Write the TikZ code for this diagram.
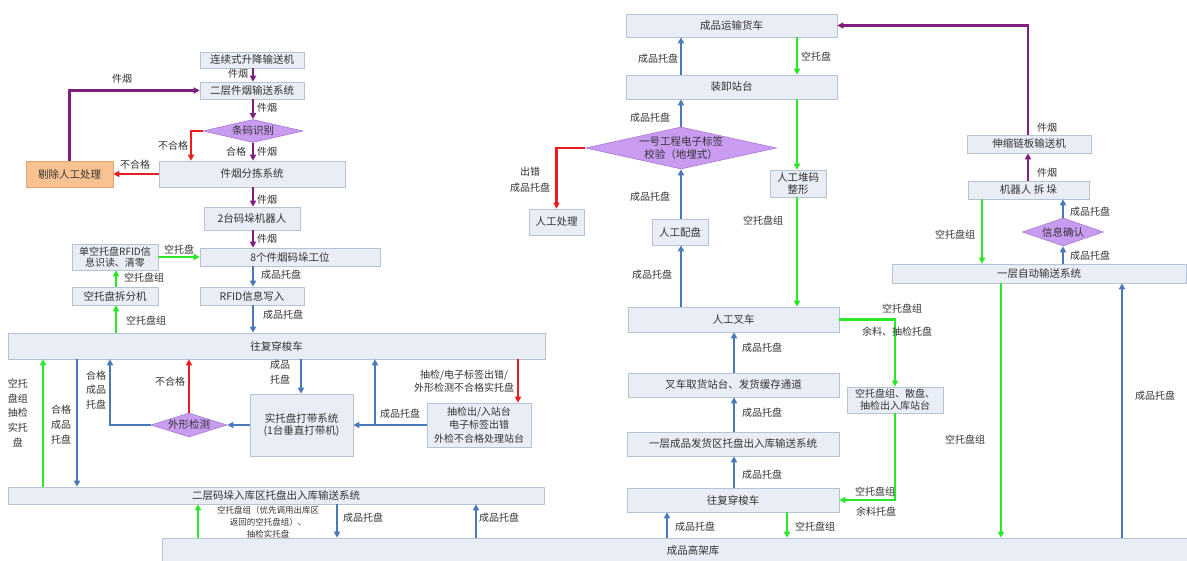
\documentclass[tikz,border=0pt]{standalone}
\usepackage{fontspec}
\setmainfont{Noto Sans CJK SC}
\usetikzlibrary{arrows.meta,shapes.geometric}
\definecolor{boxfill}{HTML}{E9EDF5}
\definecolor{boxdraw}{HTML}{B7C2D2}
\definecolor{txt}{HTML}{333333}
\definecolor{purp}{RGB}{128,30,128}
\definecolor{redc}{RGB}{232,30,30}
\definecolor{greenc}{RGB}{40,232,40}
\definecolor{bluec}{RGB}{74,120,184}
\definecolor{diafill}{HTML}{C99CF2}
\definecolor{diadraw}{HTML}{A77AD6}
\definecolor{orfill}{HTML}{F9C391}
\definecolor{ordraw}{HTML}{E2A672}
\begin{document}
\begin{tikzpicture}[x=1pt,y=-1pt,
  box/.style={draw=boxdraw, fill=boxfill, line width=0.6pt, inner sep=1pt,
    font=\fontsize{10.5}{12.5}\selectfont, text=txt, align=center},
  wh/.style 2 args={minimum width=#1pt, minimum height=#2pt},
  dia/.style={diamond, draw=diadraw, fill=diafill, line width=0.6pt, inner sep=0pt},
  lbl/.style={font=\fontsize{10}{12}\selectfont, text=txt, inner sep=0pt, align=center},
  arr/.style={line width=2.2pt, -{Triangle[length=6pt,width=6pt]}},
  parr/.style={arr, draw=purp, color=purp},
  rarr/.style={arr, draw=redc, color=redc},
  garr/.style={arr, draw=greenc, color=greenc},
  barr/.style={arr, draw=bluec, color=bluec}]
\useasboundingbox (0,0) rectangle (1187,561);
\fill[white] (0,0) rectangle (1187,561);

% column coordinates
\coordinate (cA) at (253,0);
\coordinate (cB) at (116,0);
\coordinate (cC) at (43,0);
\coordinate (cD) at (77,0);
\coordinate (cE) at (110,0);
\coordinate (cG) at (301,0);
\coordinate (cH) at (375,0);
\coordinate (cI) at (518,0);
\coordinate (cJ) at (198,0);
\coordinate (cK) at (337,0);
\coordinate (cL) at (476,0);
\coordinate (cN) at (191,0);
\coordinate (cP) at (681,0);
\coordinate (cQ) at (797,0);
\coordinate (cS) at (734,0);
\coordinate (cT) at (667,0);
\coordinate (cU) at (787,0);
\coordinate (cW) at (1001,0);
\coordinate (cX) at (1122,0);
\coordinate (cY) at (982,0);
\coordinate (c1) at (1028,0);

% ---------- left part boxes ----------
\node[box, wh={104}{16}] (n1) at (252,60) {连续式升降输送机};
\node[box, wh={104}{17}] (n2) at (252,90.5) {二层件烟输送系统};
\node[dia, minimum width=100pt, minimum height=23pt] (d1) at (253,131) {};
\node[lbl, font=\fontsize{10.5}{12}\selectfont] (d1t) at (d1) {条码识别};
\node[box, wh={186}{26}] (n3) at (252,174) {件烟分拣系统};
\node[box, wh={87}{26}, fill=orfill, draw=ordraw] (n4) at (69.5,174) {剔除人工处理};
\node[box, wh={96}{23}] (n5) at (252,218.5) {2台码垛机器人};
\node[box, wh={180}{18}] (n6) at (290,257) {8个件烟码垛工位};
\node[box, wh={104}{18}] (n7) at (252,296) {RFID信息写入};
\node[box, wh={86}{26}, font=\fontsize{10}{11.5}\selectfont] (n8) at (115,257) {单空托盘RFID信\\息识读、清零};
\node[box, wh={86}{18}] (n9) at (115,296) {空托盘拆分机};
\node[box, wh={537}{26}] (n10) at (276.5,346) {往复穿梭车};
\node[box, wh={103}{62}] (n11) at (301.5,425) {实托盘打带系统\\(1台垂直打带机)};
\node[box, wh={104}{44}, font=\fontsize{10}{13.5}\selectfont] (n12) at (479,425) {抽检出/入站台\\电子标签出错\\外检不合格处理站台};
\node[dia, minimum width=76pt, minimum height=24pt] (d2) at (189,425) {};
\node[lbl, font=\fontsize{10.5}{12}\selectfont] (d2t) at (d2) {外形检测};
\node[box, wh={536}{17}] (n13) at (276,495.5) {二层码垛入库区托盘出入库输送系统};
\node[box, wh={1025}{23}] (hw) at (674.5,549.5) {};
\node[lbl, font=\fontsize{10.5}{12}\selectfont] (hwt) at (693,551) {成品高架库};

% ---------- right part boxes ----------
\node[box, wh={211}{23}] (r1) at (731.5,25.5) {成品运输货车};
\node[box, wh={211}{24}] (r2) at (731.5,87) {装卸站台};
\node[dia, minimum width=191pt, minimum height=42pt] (d3) at (681,148) {};
\node[lbl, font=\fontsize{10.5}{13}\selectfont] (d3t) at (681,148) {一号工程电子标签\\校验（地埋式）};
\node[box, wh={55}{26}] (r3) at (556.5,222) {人工处理};
\node[box, wh={56}{26}] (r4) at (680,232) {人工配盘};
\node[box, wh={56}{27}, font=\fontsize{10.5}{12}\selectfont] (r5) at (798,183.5) {人工堆码\\整形};
\node[box, wh={211}{25}] (r6) at (733.5,319.5) {人工叉车};
\node[box, wh={211}{24}] (r7) at (733.5,385) {叉车取货站台、发货缓存通道};
\node[box, wh={212}{24}] (r8) at (733,444) {一层成品发货区托盘出入库输送系统};
\node[box, wh={212}{24}] (r9) at (733,500) {往复穿梭车};
\node[box, wh={96}{26}, font=\fontsize{10}{12}\selectfont] (r10) at (895,400) {空托盘组、散盘、\\抽检出入库站台};
\node[box, wh={124}{18}] (r11) at (1029,144) {伸缩链板输送机};
\node[box, wh={121}{18}] (r12) at (1028.5,190) {机器人 拆 垛};
\node[dia, minimum width=81pt, minimum height=28pt] (d4) at (1063,232) {};
\node[lbl, font=\fontsize{10.5}{12}\selectfont] (d4t) at (d4) {信息确认};
\node[box, wh={294}{19}] (r13) at (1039,273.5) {一层自动输送系统};

% ---------- left connectors ----------
\draw[parr] (n1.south -| cA) -- (n2.north -| cA);
\draw[parr] (n4.north) -- (n4.north |- n2.west) -- (n2.west);
\draw[parr] (n2.south -| d1) -- (d1.north);
\draw[parr] (d1.south) -- (n3.north -| d1);
\draw[rarr] (d1.west) -| (cN |- n3.north);
\draw[rarr] (n3.west) -- (n4.east);
\draw[parr] (n3.south -| cA) -- (n5.north -| cA);
\draw[parr] (n5.south -| cA) -- (n6.north -| cA);
\draw[barr] (n6.south -| cA) -- (n7.north -| cA);
\draw[barr] (n7.south -| cA) -- (n10.north -| cA);
\draw[garr] (n8.east) -- (n6.west);
\draw[garr] (n9.north -| cB) -- (n8.south -| cB);
\draw[garr] (n10.north -| cB) -- (n9.south -| cB);
\draw[garr] (n13.north -| cC) -- (n10.south -| cC);
\draw[barr] (n10.south -| cD) -- (n13.north -| cD);
\draw[barr] (d2.west) -| (cE |- n10.south);
\draw[rarr] (d2.north) -- (n10.south -| d2);
\draw[barr] (n11.west) -- (d2.east);
\draw[barr] (n10.south -| cG) -- (n11.north -| cG);
\draw[barr] (n12.west) -- (n11.east);
\draw[barr] (cH |- n12.west) -- (n10.south -| cH);
\draw[rarr] (n10.south -| cI) -- (n12.north -| cI);
\draw[garr] (hw.north -| cJ) -- (n13.south -| cJ);
\draw[barr] (n13.south -| cK) -- (hw.north -| cK);
\draw[barr] (hw.north -| cL) -- (n13.south -| cL);

% ---------- right connectors ----------
\draw[barr] (r2.north -| cP) -- (r1.south -| cP);
\draw[garr] (r1.south -| cQ) -- (r2.north -| cQ);
\draw[barr] (d3.north) -- (r2.south -| d3);
\draw[rarr] (d3.west) -| (r3.north);
\draw[barr] (r4.north -| d3) -- (d3.south);
\draw[barr] (r6.north -| cP) -- (r4.south -| cP);
\draw[garr] (r2.south -| cQ) -- (r5.north -| cQ);
\draw[garr] (r5.south -| cQ) -- (r6.north -| cQ);
\draw[barr] (r7.north -| cS) -- (r6.south -| cS);
\draw[barr] (r8.north -| cS) -- (r7.south -| cS);
\draw[barr] (r9.north -| cS) -- (r8.south -| cS);
\draw[barr] (hw.north -| cT) -- (r9.south -| cT);
\draw[garr] (r9.south -| cU) -- (hw.north -| cU);
\draw[garr] (r6.east) -| (r10.north);
\draw[garr] (r10.south) |- (r9.east);
\draw[garr] (r13.south -| cW) -- (hw.north -| cW);
\draw[barr] (hw.north -| cX) -- (r13.south -| cX);
\draw[garr] (r12.south -| cY) -- (r13.north -| cY);
\draw[barr] (r13.north -| d4) -- (d4.south);
\draw[barr] (d4.north) -- (r12.south -| d4);
\draw[parr] (r12.north -| c1) -- (r11.south -| c1);
\draw[parr] (r11.north -| c1) |- (r1.east);

% ---------- labels left ----------
\node[lbl] (L1) at (238,74) {件烟};
\node[lbl] (L2) at (122,79) {件烟};
\node[lbl] (L3) at (267,108) {件烟};
\node[lbl] (L4) at (236,152) {合格};
\node[lbl] (L5) at (267,152) {件烟};
\node[lbl] (L6) at (173,146) {不合格};
\node[lbl] (L7) at (135,165) {不合格};
\node[lbl] (L8) at (267,200) {件烟};
\node[lbl] (L9) at (267,239) {件烟};
\node[lbl] (L10) at (281,275) {成品托盘};
\node[lbl] (L11) at (283,315) {成品托盘};
\node[lbl] (L12) at (179,250) {空托盘};
\node[lbl] (L13) at (144,278) {空托盘组};
\node[lbl] (L14) at (146,321) {空托盘组};
\node[lbl, font=\fontsize{10}{14.8}\selectfont] (L15) at (18,413) {空托\\盘组\\抽检\\实托\\盘};
\node[lbl, font=\fontsize{10}{15}\selectfont] (L16) at (61,425) {合格\\成品\\托盘};
\node[lbl, font=\fontsize{10}{14.5}\selectfont] (L17) at (96,390) {合格\\成品\\托盘};
\node[lbl] (L18) at (170,382) {不合格};
\node[lbl, font=\fontsize{10}{15}\selectfont] (L19) at (280,372.5) {成品\\托盘};
\node[lbl] (L20) at (400,414) {成品托盘};
\node[lbl, font=\fontsize{10}{13}\selectfont] (L21) at (464,381.5) {抽检/电子标签出错/\\外形检测不合格实托盘};
\node[lbl, font=\fontsize{8.5}{12}\selectfont] (L22) at (268,522) {空托盘组（优先调用出库区\\返回的空托盘组）、\\抽检实托盘};
\node[lbl] (L23) at (363,518) {成品托盘};
\node[lbl] (L24) at (499,518) {成品托盘};

% ---------- labels right ----------
\node[lbl] (L25) at (658,58.5) {成品托盘};
\node[lbl] (L26) at (816,57) {空托盘};
\node[lbl] (L27) at (650,118) {成品托盘};
\node[lbl, font=\fontsize{10}{16}\selectfont] (L28) at (530,180) {出错\\成品托盘};
\node[lbl] (L29) at (650,197) {成品托盘};
\node[lbl] (L30) at (652,275) {成品托盘};
\node[lbl] (L31) at (763,221) {空托盘组};
\node[lbl] (L32) at (762,348) {成品托盘};
\node[lbl] (L33) at (762,413) {成品托盘};
\node[lbl] (L34) at (762,475) {成品托盘};
\node[lbl] (L35) at (695,527) {成品托盘};
\node[lbl] (L36) at (815,527) {空托盘组};
\node[lbl] (L37) at (902,309) {空托盘组};
\node[lbl] (L38) at (897,332) {余料、抽检托盘};
\node[lbl] (L39) at (875,492) {空托盘组};
\node[lbl] (L40) at (876,512) {余料托盘};
\node[lbl] (L41) at (965,440) {空托盘组};
\node[lbl] (L42) at (1155,396) {成品托盘};
\node[lbl] (L43) at (955,235) {空托盘组};
\node[lbl] (L44) at (1090,256) {成品托盘};
\node[lbl] (L45) at (1090,212) {成品托盘};
\node[lbl] (L46) at (1047,173) {件烟};
\node[lbl] (L47) at (1047,128) {件烟};
\end{tikzpicture}
\end{document}
